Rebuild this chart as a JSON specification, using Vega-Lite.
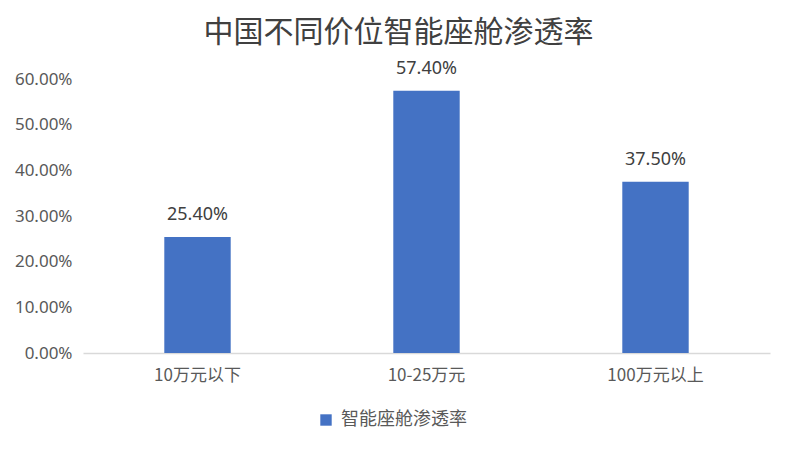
{
  "$schema": "https://vega.github.io/schema/vega-lite/v6.json",
  "width": 687,
  "height": 274,
  "autosize": {"type": "none"},
  "padding": {"left": 83, "top": 79, "right": 24, "bottom": 99},
  "background": "white",
  "title": {
    "text": "中国不同价位智能座舱渗透率",
    "font": "Noto Sans CJK SC",
    "fontSize": 30,
    "fontWeight": "normal",
    "color": "#404040",
    "anchor": "middle",
    "dx": -28,
    "offset": 12
  },
  "data": {
    "values": [
      {"category": "10万元以下", "rate": 0.254, "series": "智能座舱渗透率"},
      {"category": "10-25万元", "rate": 0.574, "series": "智能座舱渗透率"},
      {"category": "100万元以上", "rate": 0.375, "series": "智能座舱渗透率"}
    ]
  },
  "encoding": {
    "x": {
      "field": "category",
      "type": "nominal",
      "sort": null,
      "scale": {"paddingInner": 0.71, "paddingOuter": 0.355},
      "axis": {
        "title": null,
        "labelAngle": 0,
        "labelFont": "Noto Sans CJK SC",
        "labelFontSize": 17,
        "labelColor": "#595959",
        "labelPadding": 14,
        "ticks": false,
        "domainColor": "#d9d9d9",
        "domainWidth": 1.5
      }
    },
    "y": {
      "field": "rate",
      "type": "quantitative",
      "scale": {"domain": [0, 0.6], "nice": false},
      "axis": {
        "title": null,
        "format": ".2%",
        "values": [0, 0.1, 0.2, 0.3, 0.4, 0.5, 0.6],
        "labelFont": "Noto Sans",
        "labelFontSize": 17,
        "labelColor": "#595959",
        "labelPadding": 11,
        "ticks": false,
        "domain": false,
        "grid": false
      }
    }
  },
  "layer": [
    {
      "mark": {"type": "bar", "color": "#4472C4"},
      "encoding": {
        "color": {
          "field": "series",
          "type": "nominal",
          "scale": {"range": ["#4472C4"]},
          "legend": {
            "title": null,
            "orient": "none",
            "legendX": 234,
            "legendY": 332,
            "symbolType": "square",
            "symbolSize": 130,
            "symbolStrokeWidth": 0,
            "labelFont": "Noto Sans CJK SC",
            "labelFontSize": 18,
            "labelColor": "#595959",
            "labelOffset": 6
          }
        }
      }
    },
    {
      "mark": {
        "type": "text",
        "baseline": "alphabetic",
        "dy": -17,
        "font": "Noto Sans",
        "fontSize": 18,
        "color": "#404040"
      },
      "encoding": {
        "text": {"field": "rate", "type": "quantitative", "format": ".2%"}
      }
    }
  ],
  "config": {"view": {"stroke": null}}
}
